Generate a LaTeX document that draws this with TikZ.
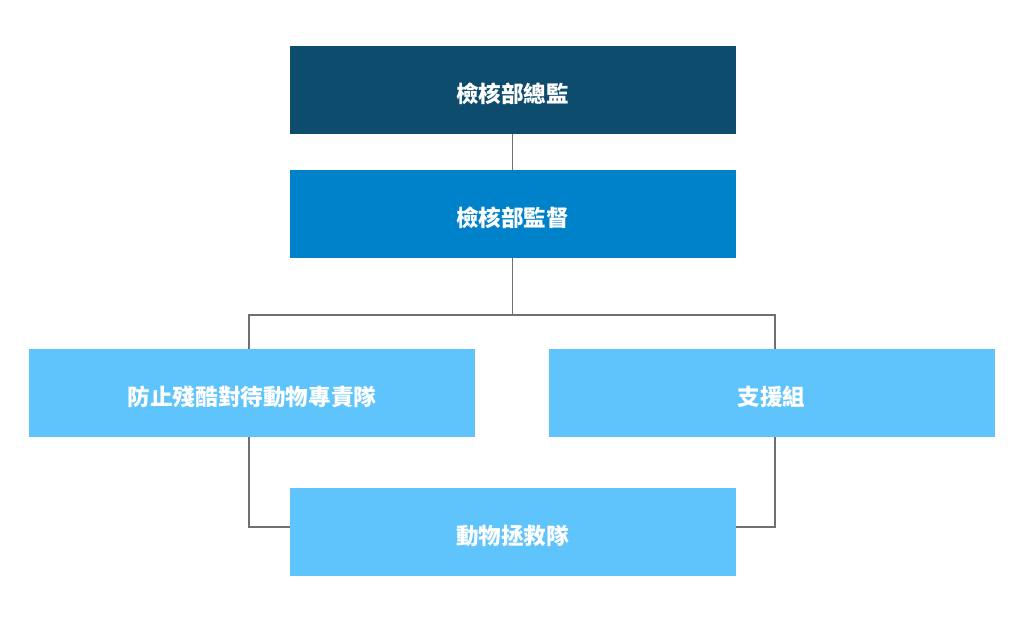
\documentclass[tikz,border=0pt]{standalone}
\usepackage{fontspec}
\setmainfont{Noto Sans CJK TC}
\usepackage{tikz}
\usetikzlibrary{calc,positioning}
\definecolor{chiefblue}{HTML}{0E4C6E}
\definecolor{supblue}{HTML}{0082CA}
\definecolor{teamblue}{HTML}{60C4FC}
\definecolor{wiregrey}{HTML}{707070}
\tikzset{
	orgbox/.style={fill=#1, draw=none, minimum width=446pt, minimum height=88pt,
		inner sep=0pt, outer sep=0pt, text=white, text height=27pt, text depth=2.7pt,
		font=\bfseries\fontsize{22.6}{26}\selectfont},
	wire/.style={draw=wiregrey, line width=1.8pt}
}

\begin{document}
\begin{tikzpicture}[x=1pt,y=-1pt]
	\useasboundingbox (0,0) rectangle (1024,629);
	\node[orgbox=chiefblue] (chief) at (512.5,90) {檢核部總監};
	\node[orgbox=supblue, below=36pt of chief] (sup) {檢核部監督};
	\node[orgbox=teamblue] (cruelty) at (252,393) {防止殘酷對待動物專責隊};
	\node[orgbox=teamblue] (support) at (771.5,393) {支援組};
	\node[orgbox=teamblue] (rescue) at (512.5,532) {動物拯救隊};
	% junction points for the branches
	\coordinate (jl) at (249,315);
	\coordinate (jr) at (775,315);
	\coordinate (bl) at (249,527);
	\coordinate (br) at (775,527);
	\draw[wire] (chief) -- (sup);
	\draw[wire] (sup.south) -- (sup.south |- jl);
	\draw[wire] (jl |- cruelty.north) -- (jl) -- (jr) -- (jr |- support.north);
	\draw[wire] (bl |- cruelty.south) -- (bl) -- (rescue.west |- bl);
	\draw[wire] (br |- support.south) -- (br) -- (rescue.east |- br);
\end{tikzpicture}
\end{document}
